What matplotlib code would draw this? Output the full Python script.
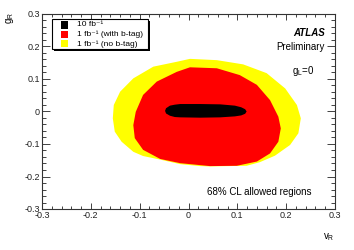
import matplotlib
matplotlib.use("Agg")
import matplotlib.pyplot as plt
from matplotlib.patches import Polygon, Rectangle
from matplotlib.ticker import MultipleLocator

plt.rcParams['font.family'] = ['Liberation Sans', 'DejaVu Sans']
plt.rcParams['mathtext.fontset'] = 'custom'
plt.rcParams['mathtext.rm'] = 'Liberation Sans'
plt.rcParams['mathtext.it'] = 'Liberation Sans:italic'
plt.rcParams['mathtext.bf'] = 'Liberation Sans:bold'

# Contour boundaries (vR, gR)
yellow_x = [0.003, 0.058, 0.112, 0.160, 0.198, 0.222, 0.230, 0.225, 0.208, 0.177, 0.146, 0.119,
            0.044, 0.024, -0.017, -0.058, -0.093, -0.113, -0.137, -0.151, -0.155, -0.153,
            -0.140, -0.113, -0.072, -0.024]
yellow_y = [0.162, 0.158, 0.145, 0.118, 0.071, 0.020, -0.021, -0.067, -0.103, -0.136, -0.156, -0.167,
            -0.169, -0.168, -0.162, -0.148, -0.137, -0.124, -0.093, -0.062, -0.021, 0.020,
            0.061, 0.102, 0.138, 0.153]

red_x = [0.003, 0.058, 0.105, 0.140, 0.167, 0.184, 0.189, 0.184, 0.167, 0.140, 0.099, 0.044,
         0.024, -0.017, -0.058, -0.093, -0.110, -0.113, -0.108, -0.093, -0.065, -0.024]
red_y = [0.136, 0.133, 0.112, 0.082, 0.035, -0.016, -0.052, -0.093, -0.129, -0.154, -0.167, -0.168,
         -0.165, -0.159, -0.146, -0.118, -0.082, -0.042, -0.001, 0.051, 0.092, 0.122]

black_x = [-0.048, -0.046, -0.038, -0.028, -0.017, 0.024, 0.065, 0.095, 0.108, 0.116, 0.119,
           0.116, 0.108, 0.095, 0.065, 0.024, -0.017, -0.028, -0.038, -0.046]
black_y = [0.002, 0.010, 0.018, 0.021, 0.023, 0.023, 0.022, 0.018, 0.013, 0.007, 0.000,
           -0.007, -0.012, -0.015, -0.018, -0.019, -0.018, -0.017, -0.013, -0.006]

labels = ["10 fb\u207b\u00b9", "1 fb\u207b\u00b9 (with b-tag)", "1 fb\u207b\u00b9 (no b-tag)"]
colors = ["black", "red", "yellow"]

fig = plt.figure(figsize=(3.54, 2.5), dpi=100)
ax = fig.add_axes([42/354, 1-209/250, (335-42)/354, (209-14)/250])

ax.add_patch(Polygon(list(zip(yellow_x, yellow_y)), closed=True, facecolor="yellow", edgecolor="none"))
ax.add_patch(Polygon(list(zip(red_x, red_y)), closed=True, facecolor="red", edgecolor="none"))
ax.add_patch(Polygon(list(zip(black_x, black_y)), closed=True, facecolor="black", edgecolor="none"))

ax.set_xlim(-0.3, 0.3)
ax.set_ylim(-0.3, 0.3)
ax.xaxis.set_major_locator(MultipleLocator(0.1))
ax.xaxis.set_minor_locator(MultipleLocator(0.02))
ax.yaxis.set_major_locator(MultipleLocator(0.1))
ax.yaxis.set_minor_locator(MultipleLocator(0.02))
ax.tick_params(which='both', direction='in', top=True, right=True, labelsize=6.5, colors='#222222', width=0.6)
ax.tick_params(axis='x', which='major', length=4.5, pad=1.5)
ax.tick_params(axis='x', which='minor', length=2.3)
ax.tick_params(axis='y', which='major', length=6, pad=1.5)
ax.tick_params(axis='y', which='minor', length=3)
for s in ax.spines.values():
    s.set_linewidth(0.8)
    s.set_color('#333333')

def fmt(v, pos):
    if abs(v) < 1e-9:
        return "0"
    return "%.1f" % v
ax.xaxis.set_major_formatter(plt.FuncFormatter(fmt))
ax.yaxis.set_major_formatter(plt.FuncFormatter(fmt))

ax.text(1.0, -0.115, "v$_{\\mathregular{R}}$", transform=ax.transAxes, ha='right', va='top', fontsize=7)
fig.text(10/354, 1-18/250, "g$_{\\mathregular{R}}$", rotation=90, ha='center', va='center', fontsize=7)

ax.text(0.965, 0.905, "ATLAS", transform=ax.transAxes, ha='right', va='center', fontsize=7, fontweight='bold', style='italic')
ax.text(0.965, 0.83, "Preliminary", transform=ax.transAxes, ha='right', va='center', fontsize=7)
ax.text(0.93, 0.71, "g$_{\\mathregular{L}}$=0", transform=ax.transAxes, ha='right', va='center', fontsize=7)
ax.text(0.92, 0.085, "68% CL allowed regions", transform=ax.transAxes, ha='right', va='center', fontsize=7)

# Legend box with shadow (ROOT style)
lx0, ly0, lw, lh = 52, 19, 96, 30
fig.patches.append(Rectangle(((lx0+2)/354, 1-(ly0+lh+2)/250), lw/354, lh/250, transform=fig.transFigure,
                             facecolor='black', edgecolor='none', zorder=5))
fig.patches.append(Rectangle((lx0/354, 1-(ly0+lh)/250), lw/354, lh/250, transform=fig.transFigure,
                             facecolor='white', edgecolor='black', linewidth=0.8, zorder=6))
for i, (lab, c) in enumerate(zip(labels, colors)):
    yc = ly0 + 6 + i * 9.4
    fig.patches.append(Rectangle(((lx0+9)/354, 1-(yc+3.5)/250), 7/354, 7/250, transform=fig.transFigure,
                                 facecolor=c, edgecolor='none', zorder=7))
    fig.text((lx0+25)/354, 1-yc/250, lab, ha='left', va='center', fontsize=6, zorder=8)

fig.savefig("out.png", dpi=100)
